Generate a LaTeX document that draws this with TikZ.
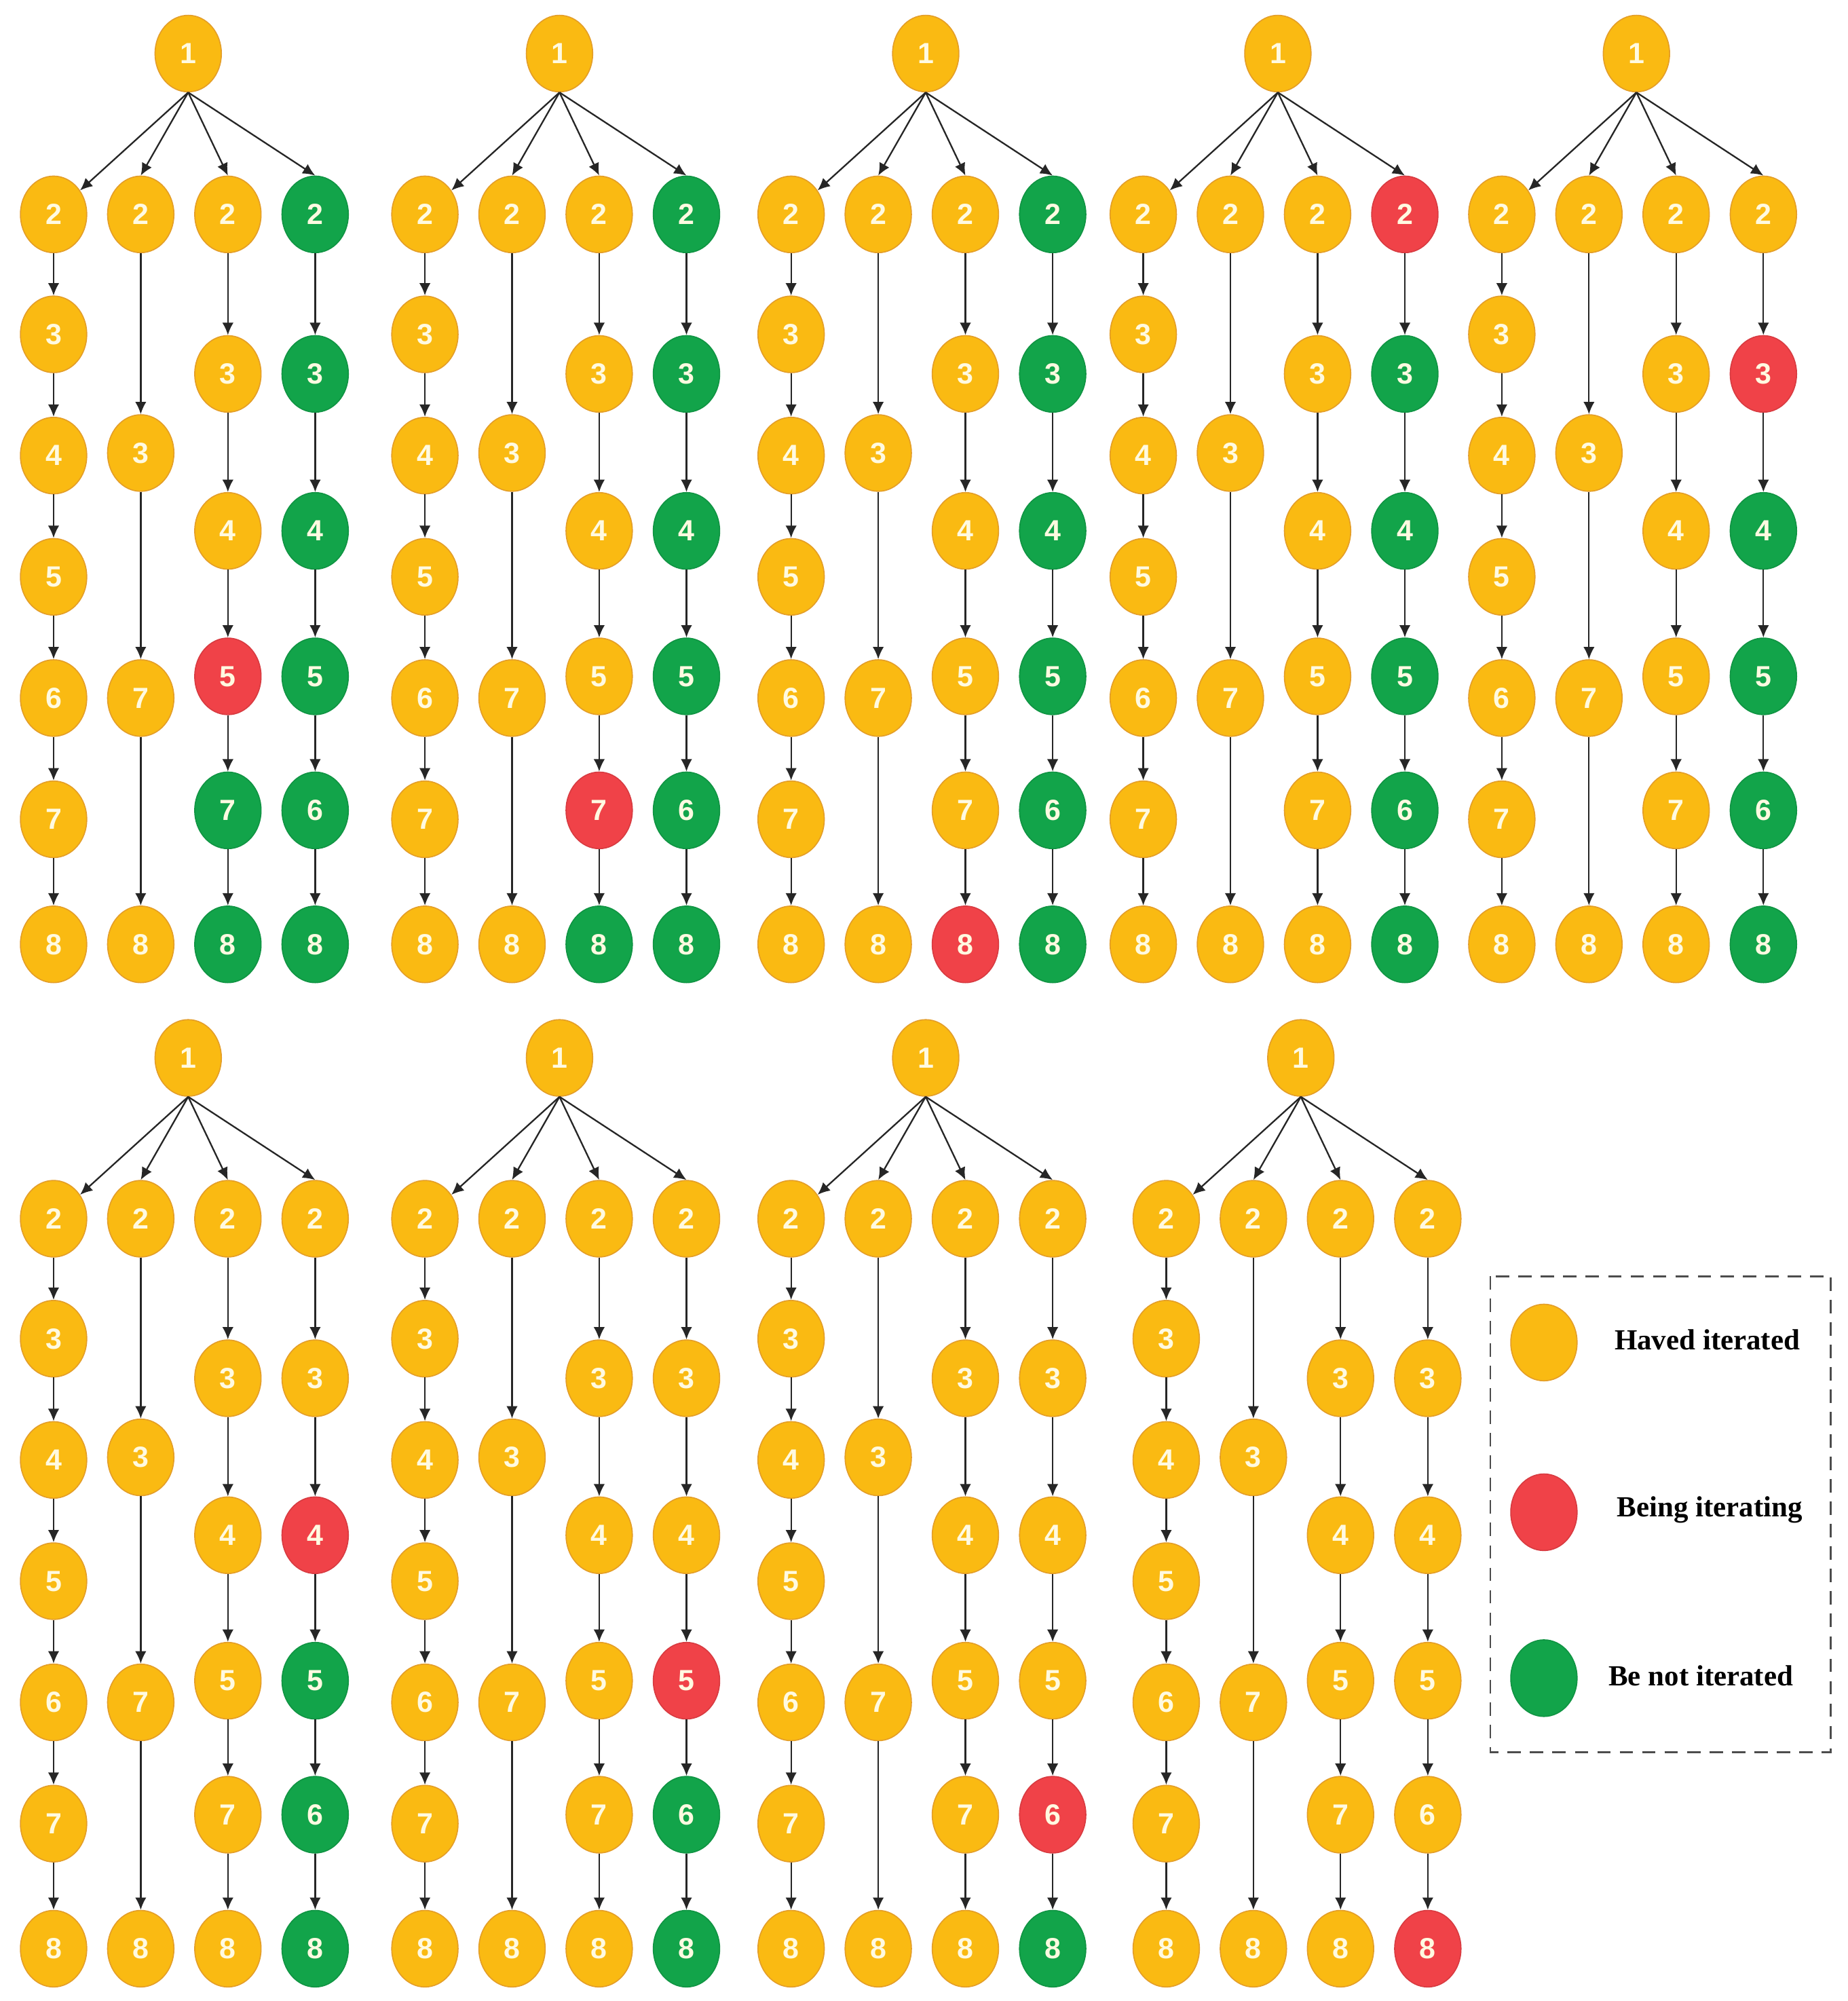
\documentclass[tikz,border=0pt]{standalone}
\usepackage{fontspec}
\setmainfont{Liberation Serif}
\newfontfamily\numfont{Liberation Sans}
\usetikzlibrary{shapes.geometric,arrows.meta}
\definecolor{cY}{RGB}{250,186,18}
\definecolor{cYd}{RGB}{228,158,40}
\definecolor{cG}{RGB}{18,164,74}
\definecolor{cR}{RGB}{240,66,72}
\definecolor{txt}{RGB}{255,250,225}
\tikzset{
 nd/.style={ellipse, minimum width=1.04cm, minimum height=1.2cm, inner sep=0pt, line width=0.5pt,
   font=\numfont\bfseries\fontsize{13}{15}\selectfont, text=txt},
 nY/.style={nd, fill=cY, draw=cYd},
 nG/.style={nd, fill=cG, draw=cG!90!black},
 nR/.style={nd, fill=cR, draw=cR!90!black},
 arr/.style={-{Latex[length=5.5pt,width=5pt]}, line width=0.7pt, black!85},
 legtext/.style={font=\bfseries\fontsize{13}{15}\selectfont, text=black},
}
% #1 prefix, #2 x of first column, #3 y offset, #4 colours of column C, #5 colours of column D
\newcommand\drawtree[5]{%
 \begin{scope}[shift={(#2,#3)}]
  \node[nY] (#1r) at (105.5,42) {1};
  \foreach \v/\yy [count=\i] in {2/168,3/262,4/357,5/452,6/547,7/642,8/740}
    {\node[nY] (#1a\i) at (0,\yy) {\v};}
  \foreach \v/\yy [count=\i] in {2/168,3/355,7/547,8/740}
    {\node[nY] (#1b\i) at (68.3,\yy) {\v};}
  \foreach \c [count=\i] in {#4} {
    \pgfmathsetmacro\yy{{168,293,416,530,635,740}[\i-1]}
    \pgfmathtruncatemacro\v{{2,3,4,5,7,8}[\i-1]}
    \node[n\c] (#1c\i) at (136.6,\yy) {\v};}
  \foreach \c [count=\i] in {#5} {
    \pgfmathsetmacro\yy{{168,293,416,530,635,740}[\i-1]}
    \pgfmathtruncatemacro\v{{2,3,4,5,6,8}[\i-1]}
    \node[n\c] (#1d\i) at (205,\yy) {\v};}
  \draw[arr] (#1r.south) -- (#1a1);
  \foreach \k in {b1,c1,d1} {\draw[arr] (#1r.south) -- (#1\k.north);}
  \foreach \i [evaluate=\i as \j using int(\i+1)] in {1,...,6} {\draw[arr] (#1a\i) -- (#1a\j);}
  \foreach \i [evaluate=\i as \j using int(\i+1)] in {1,...,3} {\draw[arr] (#1b\i) -- (#1b\j);}
  \foreach \i [evaluate=\i as \j using int(\i+1)] in {1,...,5} {\draw[arr] (#1c\i) -- (#1c\j); \draw[arr] (#1d\i) -- (#1d\j);}
 \end{scope}}
\begin{document}
\begin{tikzpicture}[x=0.02cm,y=-0.02cm]
\useasboundingbox (0,0) rectangle (1448,1568);
\fill[white] (0,0) rectangle (1448,1568);
% top row
\drawtree{A}{42}{0}{Y,Y,Y,R,G,G}{G,G,G,G,G,G}
\drawtree{B}{333}{0}{Y,Y,Y,Y,R,G}{G,G,G,G,G,G}
\drawtree{C}{620}{0}{Y,Y,Y,Y,Y,R}{G,G,G,G,G,G}
\drawtree{D}{896}{0}{Y,Y,Y,Y,Y,Y}{R,G,G,G,G,G}
\drawtree{E}{1177}{0}{Y,Y,Y,Y,Y,Y}{Y,R,G,G,G,G}
% bottom row
\drawtree{F}{42}{787}{Y,Y,Y,Y,Y,Y}{Y,Y,R,G,G,G}
\drawtree{G}{333}{787}{Y,Y,Y,Y,Y,Y}{Y,Y,Y,R,G,G}
\drawtree{H}{620}{787}{Y,Y,Y,Y,Y,Y}{Y,Y,Y,Y,R,G}
\drawtree{I}{914}{787}{Y,Y,Y,Y,Y,Y}{Y,Y,Y,Y,Y,R}
% legend
\draw[gray!60!black, line width=0.9pt, dash pattern=on 6pt off 4pt] (1168,1000) rectangle (1435,1373);
\node[nY] (lg1) at (1210,1052) {};
\node[nR] (lg2) at (1210,1185) {};
\node[nG] (lg3) at (1210,1315) {};
\node[legtext] (lt1) at (1338,1050) {Haved iterated};
\node[legtext] (lt2) at (1340,1183) {Being iterating};
\node[legtext] (lt3) at (1333,1313) {Be not iterated};
\end{tikzpicture}
\end{document}
